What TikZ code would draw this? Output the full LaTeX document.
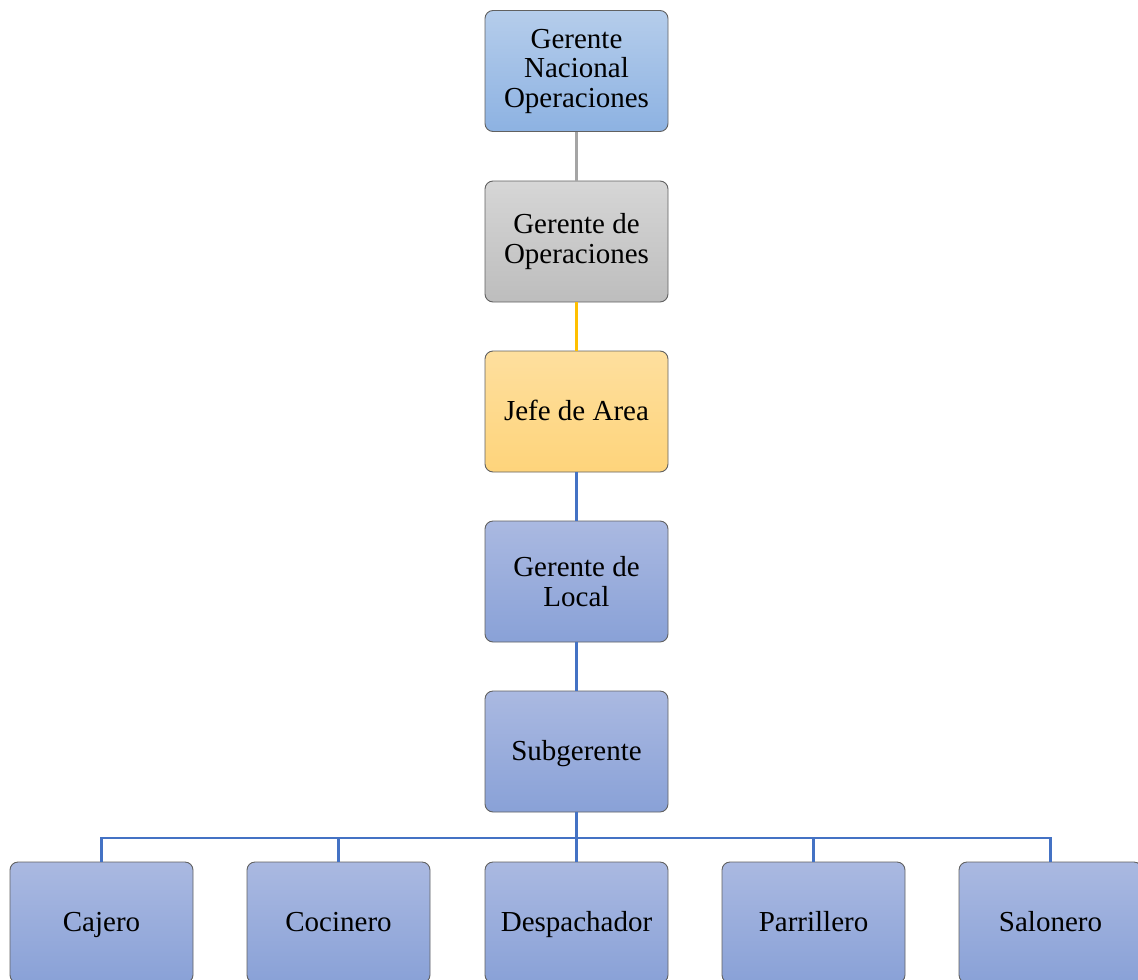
\documentclass[tikz,border=0pt]{standalone}
\usepackage{fontspec}
\setmainfont{Liberation Serif}
\begin{document}
\begin{tikzpicture}[x=1pt,y=-1pt,
  box/.style={draw=black!62, line width=0.9pt, rounded corners=8pt,
    minimum width=183pt, minimum height=121pt, align=center, inner sep=2pt,
    font=\fontsize{29}{29.5}\selectfont},
  oneline/.style={text height=20pt, text depth=2pt},
  bluebox/.style={box, top color=bTop, bottom color=bBot},
  purplebox/.style={box, top color=pTop, bottom color=pBot},
  graybox/.style={box, top color=gTop, bottom color=gBot},
  goldbox/.style={box, top color=yTop, bottom color=yBot},
  link/.style={line width=2.2pt},
]
\definecolor{bTop}{HTML}{B5CDEB}
\definecolor{bBot}{HTML}{8DB2E2}
\definecolor{pTop}{HTML}{AAB9E1}
\definecolor{pBot}{HTML}{89A1D7}
\definecolor{gTop}{HTML}{D6D6D6}
\definecolor{gBot}{HTML}{BDBDBD}
\definecolor{yTop}{HTML}{FEDF9E}
\definecolor{yBot}{HTML}{FED47B}
\definecolor{lineBlue}{HTML}{4472C4}
\definecolor{lineGray}{HTML}{A5A5A5}
\definecolor{lineGold}{HTML}{FFC000}

\useasboundingbox (0,0) rectangle (1138,980);
\clip (0,0) rectangle (1138,980);

\node[bluebox]   (n1) at (576.5,71)    {Gerente\\Nacional\\Operaciones};
\node[graybox]   (n2) at (576.5,241.5) {Gerente de\\Operaciones};
\node[goldbox, oneline]   (n3) at (576.5,411.5) {Jefe de Area};
\node[purplebox] (n4) at (576.5,581.5) {Gerente de\\Local};
\node[purplebox, oneline] (n5) at (576.5,751.5) {Subgerente};

\node[purplebox, oneline] (c1) at (101.5,922.5)  {Cajero};
\node[purplebox, oneline] (c2) at (338.5,922.5)  {Cocinero};
\node[purplebox, oneline] (c3) at (576.5,922.5)  {Despachador};
\node[purplebox, oneline] (c4) at (813.5,922.5)  {Parrillero};
\node[purplebox, oneline] (c5) at (1050.5,922.5) {Salonero};

\coordinate (bus) at (0,838);

\draw[link, lineGray] (n1.south) -- (n2.north);
\draw[link, lineGold] (n2.south) -- (n3.north);
\draw[link, lineBlue] (n3.south) -- (n4.north);
\draw[link, lineBlue] (n4.south) -- (n5.north);
\draw[link, lineBlue] (n5.south) -- (n5.south |- bus);
\draw[link, lineBlue, line cap=rect] (c1.north |- bus) -- (c5.north |- bus);
\foreach \c in {c1,c2,c3,c4,c5}
  \draw[link, lineBlue] (\c.north) -- (\c.north |- bus);
\end{tikzpicture}
\end{document}
